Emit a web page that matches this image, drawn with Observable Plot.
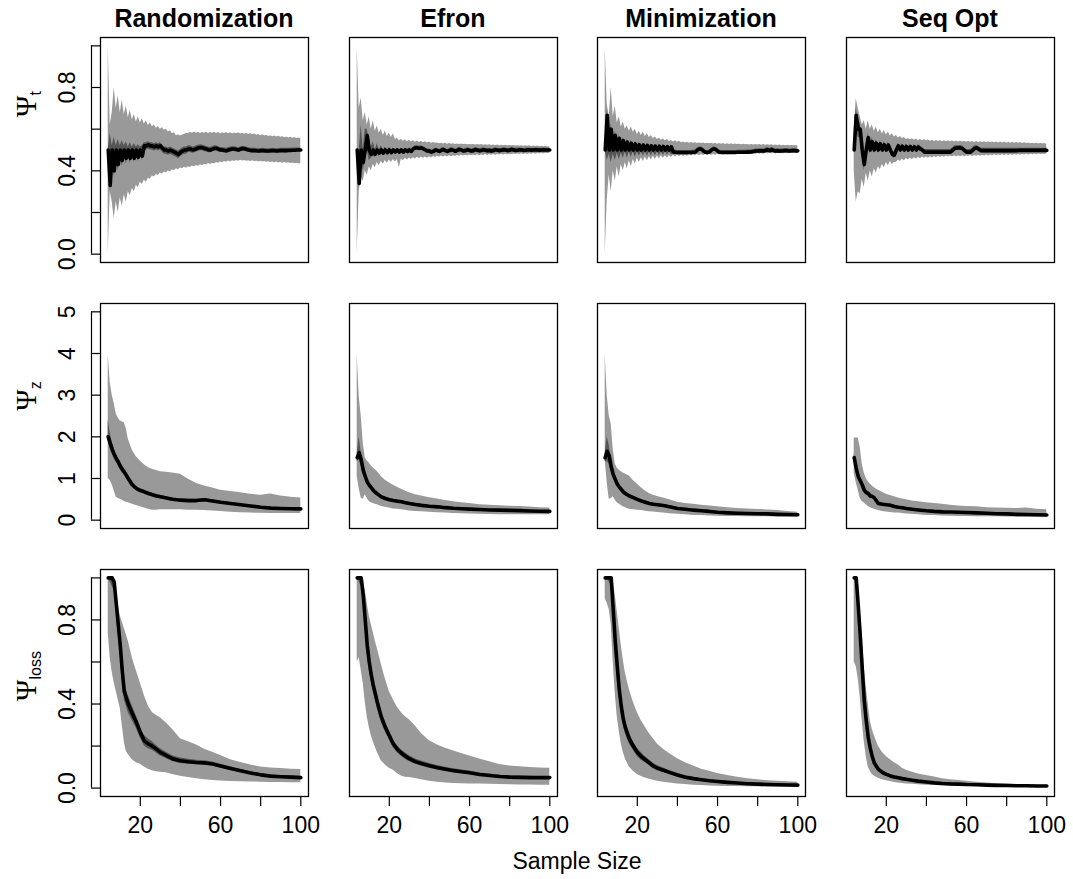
<!DOCTYPE html>
<html><head><meta charset="utf-8">
<script src="https://cdn.jsdelivr.net/npm/d3@7"></script>
<script src="https://cdn.jsdelivr.net/npm/@observablehq/plot@0.6"></script>
<style>
body{margin:0;background:#fff;}
#root{position:relative;width:1073px;height:879px;overflow:hidden;background:#fff;font-family:"Liberation Sans",Arial,sans-serif;}
#root svg{position:absolute;}
</style></head><body><div id="root"></div>
<script>
const methods = ["Randomization","Efron","Minimization","Seq Opt"];
const rowSubs = ["t","z","loss"];
const xTicks = [20,40,60,80,100];
const xLabels = [20,60,100];
const yTicksP = [0,0.2,0.4,0.6,0.8,1.0];
const yLabelsP = [0,0.4,0.8];
const yTicksZ = [0,1,2,3,4,5];

// sample sizes, row 1 (every n)
const nT = [4,5,6,7,8,9,10,11,12,13,
 14,15,16,17,18,19,20,21,22,23,
 24,25,26,27,28,29,30,31,32,33,
 34,35,36,37,38,39,40,41,42,43,
 44,45,46,47,48,49,50,51,52,53,
 54,55,56,57,58,59,60,61,62,63,
 64,65,66,67,68,69,70,71,72,73,
 74,75,76,77,78,79,80,81,82,83,
 84,85,86,87,88,89,90,91,92,93,
 94,95,96,97,98,99,100];
// sample sizes, rows 2-3
const nS = [4,5,6,7,8,9,10,11,12,13,14, 16,18,20,22,24,26,28,30, 33,36,40,44,48,52,56,60, 65,70,75,80,85,90,95,100];

// ---------- Psi_t ----------
const rand_t_hi = [1.00,0.62,0.68,0.80,0.70,0.76,0.68,0.74,0.67,0.71,
 0.655,0.69,0.645,0.67,0.635,0.66,0.63,0.65,0.625,0.64,
 0.618,0.63,0.612,0.62,0.605,0.613,0.6,0.607,0.595,0.6,
 0.587,0.592,0.578,0.583,0.568,0.573,0.567,0.572,0.574,0.58,
 0.579,0.585,0.581,0.586,0.58,0.585,0.579,0.584,0.58,0.585,
 0.579,0.584,0.58,0.585,0.579,0.584,0.578,0.583,0.579,0.584,
 0.578,0.583,0.577,0.582,0.578,0.583,0.577,0.581,0.576,0.58,
 0.575,0.579,0.573,0.577,0.571,0.575,0.569,0.573,0.567,0.571,
 0.565,0.569,0.564,0.567,0.562,0.566,0.561,0.564,0.559,0.563,
 0.558,0.561,0.557,0.56,0.555,0.558,0.554];
const rand_t_lo = [0.00,0.30,0.25,0.17,0.25,0.20,0.27,0.23,0.285,0.25,
 0.30,0.28,0.315,0.30,0.33,0.32,0.345,0.335,0.355,0.345,
 0.365,0.36,0.375,0.37,0.383,0.378,0.39,0.385,0.395,0.39,
 0.40,0.395,0.405,0.40,0.41,0.405,0.414,0.41,0.417,0.413,
 0.42,0.416,0.423,0.419,0.426,0.422,0.429,0.425,0.432,0.428,
 0.435,0.431,0.437,0.433,0.44,0.436,0.443,0.439,0.445,0.441,
 0.447,0.443,0.449,0.445,0.45,0.446,0.451,0.447,0.45,0.446,
 0.449,0.445,0.448,0.444,0.447,0.443,0.446,0.442,0.445,0.441,
 0.444,0.44,0.443,0.439,0.442,0.438,0.441,0.437,0.44,0.436,
 0.439,0.435,0.438,0.434,0.437,0.433,0.435];
const rand_t_med = [0.50,0.33,0.50,0.40,0.50,0.43,0.50,0.45,0.50,0.46,
 0.50,0.46,0.50,0.46,0.50,0.465,0.50,0.47,0.52,0.52,
 0.525,0.52,0.52,0.515,0.52,0.515,0.52,0.51,0.50,0.50,
 0.495,0.50,0.495,0.49,0.485,0.478,0.488,0.495,0.50,0.50,
 0.505,0.505,0.50,0.502,0.506,0.51,0.512,0.511,0.507,0.505,
 0.50,0.50,0.504,0.508,0.508,0.504,0.50,0.50,0.498,0.496,
 0.50,0.503,0.505,0.505,0.502,0.50,0.504,0.507,0.506,0.503,
 0.50,0.498,0.497,0.498,0.496,0.495,0.496,0.497,0.496,0.495,
 0.495,0.496,0.497,0.496,0.495,0.496,0.497,0.498,0.497,0.497,
 0.498,0.498,0.499,0.499,0.50,0.50,0.50];
const rand_t_ihi = [0.50,0.58,0.52,0.56,0.52,0.55,0.52,0.545,0.52,0.54,
 0.515,0.535,0.515,0.53,0.515,0.525,0.515,0.52,0.535,0.535,
 0.54,0.535,0.535,0.53,0.535,0.53,0.535,0.525,0.515,0.515,
 0.51,0.515,0.51,0.505,0.50,0.495,0.503,0.51,0.515,0.515,
 0.52,0.52,0.515,0.516,0.52,0.523,0.525,0.524,0.52,0.518,
 0.513,0.513,0.516,0.52,0.52,0.516,0.512,0.512,0.51,0.508,
 0.512,0.514,0.516,0.516,0.513,0.511,0.515,0.518,0.517,0.514,
 0.511,0.509,0.508,0.509,0.507,0.506,0.507,0.508,0.507,0.506,
 0.506,0.507,0.508,0.507,0.506,0.507,0.508,0.509,0.508,0.508,
 0.509,0.509,0.51,0.51,0.51,0.51,0.51];
const rand_t_ilo = [0.50,0.30,0.48,0.37,0.48,0.40,0.48,0.42,0.485,0.43,
 0.485,0.435,0.485,0.44,0.485,0.445,0.485,0.45,0.495,0.50,
 0.505,0.50,0.50,0.495,0.50,0.495,0.50,0.49,0.48,0.48,
 0.475,0.48,0.475,0.47,0.465,0.458,0.468,0.475,0.48,0.48,
 0.488,0.488,0.484,0.486,0.49,0.494,0.497,0.497,0.493,0.491,
 0.487,0.487,0.491,0.495,0.495,0.491,0.488,0.488,0.486,0.484,
 0.488,0.491,0.493,0.493,0.49,0.488,0.492,0.495,0.494,0.491,
 0.489,0.487,0.486,0.487,0.485,0.484,0.485,0.486,0.485,0.484,
 0.484,0.485,0.486,0.486,0.485,0.486,0.487,0.488,0.487,0.487,
 0.488,0.488,0.489,0.489,0.49,0.49,0.49];

const efron_t_hi = [0.99,0.70,0.75,0.64,0.68,0.62,0.66,0.60,0.64,0.59,
 0.615,0.58,0.60,0.57,0.59,0.565,0.58,0.56,0.578,0.55,
 0.556,0.545,0.552,0.542,0.549,0.54,0.547,0.538,0.545,0.537,
 0.543,0.536,0.542,0.535,0.54,0.534,0.538,0.533,0.536,0.532,
 0.534,0.53,0.533,0.529,0.532,0.528,0.531,0.528,0.53,0.527,
 0.529,0.526,0.529,0.526,0.528,0.525,0.527,0.525,0.527,0.524,
 0.526,0.524,0.526,0.523,0.525,0.523,0.525,0.522,0.524,0.522,
 0.524,0.521,0.523,0.521,0.523,0.52,0.522,0.52,0.522,0.519,
 0.521,0.519,0.521,0.518,0.52,0.518,0.52,0.517,0.519,0.517,
 0.519,0.516,0.518,0.516,0.518,0.515,0.516];
const efron_t_lo = [0.00,0.30,0.37,0.35,0.40,0.38,0.42,0.40,0.43,0.415,
 0.44,0.425,0.445,0.432,0.45,0.437,0.452,0.44,0.455,0.443,
 0.455,0.415,0.457,0.448,0.46,0.452,0.462,0.455,0.463,0.457,
 0.465,0.458,0.466,0.46,0.467,0.461,0.468,0.462,0.469,0.464,
 0.47,0.465,0.471,0.466,0.472,0.467,0.473,0.468,0.473,0.469,
 0.474,0.47,0.475,0.471,0.475,0.471,0.476,0.472,0.476,0.473,
 0.477,0.473,0.477,0.474,0.478,0.474,0.478,0.475,0.479,0.475,
 0.479,0.476,0.48,0.476,0.48,0.477,0.48,0.477,0.481,0.478,
 0.481,0.478,0.482,0.479,0.482,0.479,0.482,0.48,0.483,0.48,
 0.483,0.481,0.484,0.481,0.484,0.482,0.484];
const efron_t_med = [0.50,0.34,0.50,0.44,0.50,0.57,0.50,0.48,0.50,0.48,
 0.50,0.485,0.50,0.485,0.50,0.487,0.50,0.488,0.50,0.49,
 0.50,0.49,0.50,0.49,0.50,0.492,0.50,0.493,0.505,0.51,
 0.51,0.508,0.51,0.505,0.50,0.495,0.495,0.49,0.493,0.50,
 0.497,0.493,0.498,0.502,0.497,0.493,0.497,0.502,0.498,0.494,
 0.498,0.503,0.499,0.495,0.497,0.501,0.498,0.495,0.497,0.502,
 0.499,0.496,0.498,0.501,0.499,0.496,0.498,0.495,0.498,0.501,
 0.499,0.497,0.499,0.501,0.5,0.497,0.499,0.502,0.5,0.498,
 0.499,0.501,0.5,0.498,0.499,0.501,0.5,0.499,0.5,0.501,
 0.5,0.499,0.5,0.501,0.5,0.5,0.5];
const efron_t_ihi = [0.50,0.50,0.62,0.50,0.60,0.60,0.55,0.51,0.54,0.50,
 0.53,0.50,0.52,0.50,0.515,0.50,0.512,0.50,0.51,0.50,
 0.51,0.50,0.51,0.50,0.51,0.502,0.51,0.503,0.515,0.52,
 0.52,0.518,0.52,0.515,0.51,0.505,0.505,0.50,0.503,0.51,
 0.507,0.503,0.508,0.512,0.507,0.503,0.507,0.512,0.508,0.504,
 0.508,0.513,0.509,0.505,0.507,0.511,0.508,0.505,0.507,0.512,
 0.509,0.506,0.508,0.511,0.509,0.506,0.508,0.505,0.508,0.511,
 0.509,0.507,0.509,0.511,0.51,0.507,0.509,0.512,0.51,0.508,
 0.508,0.51,0.509,0.507,0.508,0.51,0.509,0.508,0.509,0.51,
 0.509,0.508,0.509,0.51,0.509,0.509,0.509];
const efron_t_ilo = [0.50,0.32,0.45,0.40,0.45,0.50,0.45,0.46,0.47,0.465,
 0.48,0.47,0.482,0.472,0.485,0.475,0.488,0.477,0.49,0.48,
 0.49,0.48,0.49,0.48,0.49,0.482,0.49,0.483,0.495,0.50,
 0.50,0.498,0.50,0.495,0.49,0.485,0.485,0.48,0.483,0.49,
 0.487,0.483,0.488,0.492,0.487,0.483,0.487,0.492,0.488,0.484,
 0.488,0.493,0.489,0.485,0.487,0.491,0.488,0.485,0.487,0.492,
 0.489,0.486,0.488,0.491,0.489,0.486,0.488,0.485,0.488,0.491,
 0.489,0.487,0.489,0.491,0.49,0.487,0.489,0.492,0.49,0.488,
 0.49,0.492,0.491,0.489,0.49,0.492,0.491,0.49,0.491,0.492,
 0.491,0.49,0.491,0.492,0.491,0.491,0.491];

const min_t_hi = [0.99,0.72,0.66,0.80,0.66,0.71,0.63,0.66,0.61,0.635,
 0.60,0.615,0.59,0.61,0.585,0.60,0.575,0.59,0.57,0.585,
 0.565,0.578,0.56,0.57,0.555,0.562,0.55,0.556,0.547,0.553,
 0.544,0.55,0.541,0.546,0.539,0.544,0.537,0.542,0.535,0.538,
 0.534,0.537,0.533,0.536,0.532,0.535,0.531,0.534,0.531,0.534,
 0.53,0.533,0.53,0.533,0.529,0.532,0.528,0.531,0.528,0.531,
 0.527,0.53,0.527,0.53,0.526,0.529,0.526,0.528,0.525,0.528,
 0.525,0.527,0.524,0.527,0.524,0.527,0.524,0.526,0.523,0.526,
 0.523,0.525,0.523,0.525,0.522,0.524,0.522,0.524,0.521,0.523,
 0.521,0.523,0.52,0.522,0.52,0.522,0.52];
const min_t_lo = [0.00,0.26,0.38,0.30,0.40,0.35,0.42,0.37,0.43,0.40,
 0.44,0.41,0.448,0.42,0.455,0.433,0.46,0.44,0.463,0.445,
 0.466,0.448,0.468,0.452,0.47,0.455,0.471,0.458,0.472,0.46,
 0.473,0.462,0.474,0.464,0.475,0.466,0.476,0.468,0.476,0.469,
 0.476,0.47,0.477,0.471,0.477,0.472,0.478,0.473,0.478,0.474,
 0.479,0.474,0.479,0.475,0.479,0.475,0.48,0.476,0.48,0.476,
 0.481,0.477,0.481,0.477,0.481,0.478,0.481,0.478,0.482,0.479,
 0.482,0.479,0.482,0.479,0.483,0.48,0.483,0.48,0.483,0.48,
 0.484,0.481,0.484,0.481,0.484,0.481,0.484,0.482,0.485,0.482,
 0.485,0.482,0.485,0.483,0.485,0.483,0.485];
const min_t_med = [0.50,0.667,0.50,0.60,0.50,0.571,0.50,0.556,0.50,0.545,
 0.50,0.538,0.50,0.533,0.50,0.529,0.50,0.526,0.50,0.524,
 0.50,0.522,0.50,0.52,0.50,0.519,0.50,0.518,0.50,0.517,
 0.50,0.516,0.50,0.515,0.49,0.489,0.488,0.488,0.488,0.488,
 0.488,0.488,0.488,0.488,0.489,0.49,0.50,0.505,0.505,0.495,
 0.489,0.488,0.49,0.50,0.505,0.504,0.495,0.489,0.488,0.488,
 0.488,0.488,0.488,0.488,0.488,0.488,0.489,0.489,0.489,0.489,
 0.489,0.49,0.49,0.491,0.493,0.495,0.495,0.496,0.496,0.495,
 0.498,0.502,0.497,0.502,0.498,0.495,0.496,0.495,0.495,0.496,
 0.497,0.496,0.495,0.496,0.497,0.496,0.496];
const min_t_ihi = [0.50,0.70,0.52,0.63,0.52,0.59,0.515,0.57,0.515,0.56,
 0.51,0.55,0.51,0.545,0.51,0.54,0.51,0.535,0.51,0.532,
 0.51,0.53,0.51,0.528,0.51,0.527,0.51,0.525,0.51,0.524,
 0.51,0.523,0.51,0.522,0.50,0.499,0.498,0.498,0.498,0.498,
 0.498,0.498,0.498,0.498,0.499,0.50,0.51,0.515,0.515,0.505,
 0.499,0.498,0.50,0.51,0.515,0.514,0.505,0.499,0.498,0.498,
 0.498,0.498,0.498,0.498,0.498,0.498,0.499,0.499,0.499,0.499,
 0.499,0.50,0.50,0.501,0.503,0.505,0.505,0.506,0.506,0.505,
 0.508,0.512,0.507,0.512,0.508,0.505,0.506,0.505,0.505,0.506,
 0.507,0.506,0.505,0.506,0.507,0.506,0.506];
const min_t_ilo = [0.50,0.45,0.48,0.44,0.48,0.45,0.485,0.455,0.485,0.46,
 0.49,0.46,0.49,0.465,0.49,0.465,0.49,0.47,0.49,0.47,
 0.49,0.47,0.49,0.472,0.49,0.472,0.49,0.474,0.49,0.475,
 0.49,0.476,0.49,0.477,0.48,0.479,0.478,0.478,0.478,0.478,
 0.478,0.478,0.478,0.478,0.479,0.48,0.49,0.495,0.495,0.485,
 0.479,0.478,0.48,0.49,0.495,0.494,0.485,0.479,0.478,0.478,
 0.478,0.478,0.478,0.478,0.478,0.478,0.479,0.479,0.479,0.479,
 0.479,0.48,0.48,0.481,0.483,0.485,0.485,0.486,0.486,0.485,
 0.488,0.492,0.487,0.492,0.488,0.485,0.486,0.485,0.485,0.486,
 0.487,0.486,0.485,0.486,0.487,0.486,0.486];

const seq_t_hi = [0.60,0.746,0.70,0.66,0.62,0.64,0.60,0.64,0.60,0.62,
 0.59,0.61,0.583,0.60,0.577,0.594,0.572,0.586,0.567,0.578,
 0.562,0.57,0.558,0.565,0.555,0.56,0.551,0.555,0.549,0.554,
 0.547,0.553,0.545,0.552,0.544,0.55,0.543,0.548,0.542,0.547,
 0.541,0.546,0.541,0.546,0.54,0.545,0.54,0.545,0.539,0.544,
 0.539,0.543,0.538,0.543,0.538,0.542,0.537,0.542,0.537,0.541,
 0.536,0.541,0.536,0.54,0.536,0.54,0.535,0.54,0.535,0.539,
 0.535,0.539,0.534,0.538,0.534,0.538,0.533,0.537,0.533,0.537,
 0.532,0.536,0.532,0.536,0.531,0.535,0.531,0.534,0.53,0.533,
 0.53,0.533,0.529,0.532,0.529,0.531,0.528];
const seq_t_lo = [0.40,0.25,0.30,0.29,0.36,0.32,0.39,0.35,0.40,0.37,
 0.41,0.39,0.42,0.405,0.43,0.415,0.44,0.425,0.445,0.43,
 0.44,0.44,0.452,0.445,0.456,0.448,0.459,0.452,0.461,0.454,
 0.463,0.456,0.465,0.458,0.466,0.46,0.467,0.461,0.468,0.462,
 0.469,0.463,0.47,0.464,0.47,0.465,0.471,0.466,0.471,0.466,
 0.472,0.467,0.472,0.468,0.473,0.468,0.473,0.469,0.474,0.469,
 0.474,0.47,0.475,0.47,0.475,0.471,0.476,0.471,0.476,0.472,
 0.477,0.472,0.477,0.473,0.478,0.473,0.478,0.474,0.478,0.474,
 0.479,0.475,0.479,0.475,0.48,0.476,0.48,0.476,0.48,0.477,
 0.481,0.477,0.481,0.478,0.481,0.478,0.481];
const seq_t_med = [0.50,0.667,0.60,0.60,0.50,0.43,0.50,0.56,0.50,0.54,
 0.50,0.533,0.50,0.53,0.50,0.526,0.50,0.524,0.50,0.48,
 0.475,0.50,0.52,0.50,0.518,0.50,0.517,0.50,0.516,0.50,
 0.515,0.50,0.514,0.505,0.50,0.49,0.49,0.49,0.49,0.49,
 0.49,0.49,0.49,0.49,0.49,0.49,0.49,0.49,0.49,0.498,
 0.507,0.51,0.51,0.51,0.507,0.498,0.49,0.49,0.49,0.498,
 0.507,0.51,0.505,0.498,0.497,0.497,0.497,0.497,0.497,0.497,
 0.497,0.497,0.497,0.497,0.497,0.497,0.497,0.497,0.497,0.497,
 0.497,0.497,0.498,0.498,0.498,0.498,0.498,0.498,0.498,0.498,
 0.498,0.498,0.498,0.498,0.498,0.498,0.498];
const seq_t_ihi = [0.52,0.70,0.64,0.63,0.53,0.47,0.52,0.58,0.52,0.56,
 0.515,0.55,0.515,0.545,0.512,0.54,0.512,0.537,0.51,0.495,
 0.49,0.512,0.532,0.512,0.53,0.512,0.529,0.512,0.528,0.512,
 0.527,0.512,0.526,0.517,0.512,0.502,0.502,0.502,0.502,0.502,
 0.502,0.502,0.502,0.502,0.502,0.502,0.502,0.502,0.502,0.51,
 0.519,0.522,0.522,0.522,0.519,0.51,0.502,0.502,0.502,0.51,
 0.519,0.522,0.517,0.51,0.508,0.508,0.508,0.508,0.508,0.508,
 0.508,0.508,0.508,0.508,0.508,0.508,0.508,0.508,0.508,0.508,
 0.508,0.508,0.508,0.508,0.508,0.508,0.508,0.508,0.508,0.508,
 0.508,0.508,0.508,0.508,0.508,0.508,0.508];
const seq_t_ilo = [0.48,0.62,0.56,0.56,0.47,0.40,0.48,0.54,0.48,0.52,
 0.485,0.515,0.485,0.515,0.488,0.51,0.488,0.51,0.49,0.465,
 0.46,0.488,0.508,0.488,0.506,0.488,0.505,0.488,0.504,0.488,
 0.503,0.488,0.502,0.493,0.488,0.478,0.478,0.478,0.478,0.478,
 0.478,0.478,0.478,0.478,0.478,0.478,0.478,0.478,0.478,0.486,
 0.495,0.498,0.498,0.498,0.495,0.486,0.478,0.478,0.478,0.486,
 0.495,0.498,0.493,0.486,0.486,0.486,0.486,0.486,0.486,0.486,
 0.486,0.486,0.486,0.486,0.486,0.486,0.486,0.486,0.486,0.486,
 0.487,0.487,0.488,0.488,0.488,0.488,0.488,0.488,0.488,0.488,
 0.488,0.488,0.488,0.488,0.488,0.488,0.488];

// ---------- Psi_z ----------
const rand_z_med = [2.00,1.85,1.70,1.58,1.48,1.40,1.30,1.22,1.16,1.08,1.00, 0.85,0.76,0.71,0.68,0.64,0.61,0.58,0.56, 0.53,0.50,0.48,0.47,0.47,0.49,0.46,0.43, 0.40,0.37,0.34,0.31,0.29,0.28,0.275,0.27];
const rand_z_hi = [3.97,3.3,3.0,2.8,2.55,2.45,2.38,2.36,2.34,2.2,1.95, 1.68,1.52,1.42,1.33,1.26,1.22,1.19,1.16, 1.15,1.13,1.10,0.98,0.88,0.82,0.77,0.72, 0.69,0.66,0.62,0.60,0.63,0.58,0.55,0.53];
const rand_z_lo = [1.00,0.95,0.85,0.70,0.55,0.52,0.50,0.48,0.45,0.43,0.42, 0.38,0.35,0.32,0.29,0.26,0.24,0.24,0.25, 0.25,0.25,0.25,0.24,0.24,0.235,0.22,0.21, 0.19,0.18,0.17,0.165,0.16,0.16,0.16,0.16];
const rand_z_ihi = [2.4,2.1,1.85,1.7,1.58,1.5,1.4,1.31,1.24,1.16,1.08, 0.92,0.82,0.76,0.72,0.68,0.65,0.62,0.60, 0.565,0.535,0.51,0.50,0.50,0.52,0.49,0.455, 0.425,0.39,0.36,0.33,0.31,0.30,0.29,0.285];
const rand_z_ilo = [1.9,1.7,1.58,1.48,1.39,1.31,1.21,1.14,1.08,1.0,0.93, 0.79,0.71,0.67,0.64,0.60,0.575,0.545,0.525, 0.495,0.47,0.45,0.44,0.44,0.46,0.43,0.405, 0.375,0.35,0.32,0.29,0.27,0.26,0.26,0.255];

const efron_z_med = [1.50,1.62,1.45,1.20,1.05,0.92,0.84,0.78,0.72,0.67,0.63, 0.56,0.52,0.49,0.47,0.455,0.44,0.42,0.40, 0.375,0.355,0.335,0.32,0.30,0.285,0.275,0.265, 0.255,0.245,0.24,0.235,0.23,0.22,0.215,0.21];
const efron_z_hi = [3.97,2.97,2.5,1.85,1.5,1.42,1.37,1.30,1.25,1.21,1.17, 1.05,0.96,0.90,0.84,0.79,0.74,0.70,0.66, 0.61,0.58,0.54,0.51,0.47,0.44,0.42,0.40, 0.37,0.36,0.345,0.335,0.33,0.315,0.30,0.29];
const efron_z_lo = [1.05,0.75,0.53,0.50,0.61,0.52,0.45,0.42,0.40,0.38,0.37, 0.33,0.31,0.29,0.27,0.26,0.25,0.24,0.22, 0.21,0.20,0.19,0.18,0.17,0.16,0.155,0.15, 0.14,0.135,0.13,0.13,0.13,0.13,0.13,0.13];
const efron_z_ihi = [1.6,2.0,1.6,1.3,1.13,0.99,0.9,0.84,0.77,0.72,0.68, 0.60,0.56,0.525,0.50,0.485,0.47,0.45,0.43, 0.40,0.38,0.355,0.34,0.32,0.30,0.29,0.28, 0.27,0.26,0.255,0.25,0.245,0.235,0.23,0.225];
const efron_z_ilo = [1.4,1.45,1.3,1.1,0.97,0.85,0.78,0.72,0.67,0.62,0.585, 0.52,0.48,0.455,0.44,0.425,0.41,0.39,0.37, 0.35,0.33,0.315,0.30,0.28,0.27,0.26,0.25, 0.24,0.23,0.225,0.22,0.215,0.205,0.20,0.195];

const min_z_med = [1.50,1.65,1.55,1.28,1.10,0.98,0.87,0.80,0.74,0.68,0.64, 0.58,0.54,0.50,0.46,0.43,0.40,0.38,0.37, 0.35,0.32,0.28,0.26,0.24,0.225,0.21,0.19, 0.175,0.165,0.16,0.155,0.15,0.14,0.135,0.13];
const min_z_hi = [3.97,3.0,2.5,2.3,1.7,1.35,1.25,1.20,1.16,1.13,1.11, 1.06,0.95,0.86,0.78,0.70,0.64,0.60,0.57, 0.53,0.49,0.43,0.40,0.38,0.36,0.34,0.32, 0.30,0.28,0.27,0.255,0.245,0.23,0.21,0.19];
const min_z_lo = [1.45,0.90,0.50,0.52,0.56,0.48,0.42,0.38,0.35,0.32,0.30, 0.26,0.25,0.24,0.23,0.215,0.205,0.195,0.185, 0.17,0.155,0.14,0.13,0.115,0.11,0.10,0.095, 0.09,0.088,0.085,0.082,0.08,0.075,0.072,0.07];
const min_z_ihi = [1.6,2.0,1.8,1.4,1.2,1.06,0.94,0.86,0.80,0.73,0.69, 0.62,0.58,0.535,0.49,0.46,0.43,0.41,0.395, 0.375,0.345,0.30,0.28,0.26,0.24,0.225,0.205, 0.19,0.18,0.17,0.165,0.16,0.15,0.145,0.14];
const min_z_ilo = [1.4,1.4,1.35,1.15,1.0,0.9,0.80,0.74,0.68,0.63,0.59, 0.54,0.50,0.465,0.43,0.40,0.37,0.35,0.345, 0.325,0.295,0.26,0.24,0.22,0.21,0.195,0.175, 0.16,0.15,0.15,0.145,0.14,0.13,0.125,0.12];

const seq_z_med = [1.50,1.25,1.05,0.95,0.85,0.72,0.66,0.64,0.58,0.57,0.54, 0.40,0.38,0.37,0.36,0.33,0.31,0.30,0.28, 0.26,0.245,0.225,0.21,0.20,0.195,0.19,0.185, 0.175,0.165,0.155,0.15,0.14,0.135,0.13,0.125];
const seq_z_hi = [1.97,1.97,1.97,1.75,1.35,1.13,1.0,0.92,0.87,0.82,0.78, 0.72,0.67,0.62,0.59,0.56,0.53,0.51,0.49, 0.46,0.44,0.42,0.40,0.38,0.36,0.34,0.33, 0.32,0.30,0.29,0.285,0.28,0.29,0.26,0.25];
const seq_z_lo = [1.13,0.90,0.72,0.52,0.45,0.41,0.37,0.33,0.30,0.28,0.26, 0.23,0.21,0.195,0.185,0.175,0.17,0.16,0.15, 0.14,0.13,0.115,0.11,0.10,0.095,0.09,0.088, 0.085,0.082,0.08,0.078,0.075,0.073,0.072,0.07];
const seq_z_ihi = [1.6,1.35,1.13,1.02,0.92,0.78,0.71,0.69,0.63,0.61,0.58, 0.44,0.415,0.40,0.39,0.36,0.335,0.325,0.305, 0.28,0.265,0.245,0.23,0.22,0.21,0.205,0.20, 0.19,0.18,0.17,0.165,0.155,0.15,0.145,0.14];
const seq_z_ilo = [1.4,1.15,0.97,0.88,0.78,0.66,0.61,0.59,0.53,0.53,0.50, 0.36,0.345,0.34,0.33,0.30,0.285,0.275,0.255, 0.24,0.225,0.205,0.19,0.18,0.18,0.175,0.17, 0.16,0.15,0.14,0.135,0.125,0.12,0.115,0.11];

// ---------- Psi_loss ----------
const rand_l_med = [1.0,1.0,1.0,0.98,0.88,0.78,0.68,0.56,0.46,0.43,0.40, 0.355,0.315,0.265,0.225,0.21,0.20,0.185,0.17, 0.155,0.14,0.13,0.125,0.122,0.12,0.115,0.105, 0.093,0.082,0.072,0.063,0.057,0.054,0.052,0.05];
const rand_l_hi = [1.0,1.0,1.0,1.0,0.92,0.87,0.82,0.79,0.76,0.73,0.70, 0.62,0.56,0.50,0.44,0.39,0.36,0.345,0.335, 0.31,0.28,0.235,0.22,0.205,0.185,0.17,0.155, 0.135,0.122,0.11,0.10,0.096,0.093,0.09,0.088];
const rand_l_lo = [0.74,0.62,0.55,0.50,0.46,0.42,0.38,0.30,0.22,0.175,0.16, 0.135,0.12,0.113,0.10,0.09,0.082,0.078,0.075, 0.073,0.065,0.056,0.05,0.045,0.04,0.036,0.034, 0.031,0.03,0.029,0.028,0.027,0.027,0.026,0.026];
const rand_l_ihi = [1.0,1.0,1.0,1.0,0.92,0.83,0.73,0.61,0.51,0.47,0.44, 0.39,0.345,0.29,0.25,0.233,0.22,0.203,0.187, 0.17,0.154,0.143,0.137,0.133,0.13,0.124,0.114, 0.101,0.089,0.078,0.069,0.062,0.059,0.057,0.055];
const rand_l_ilo = [1.0,0.98,0.96,0.94,0.83,0.73,0.63,0.51,0.42,0.39,0.36, 0.32,0.285,0.24,0.20,0.187,0.18,0.167,0.153, 0.14,0.126,0.117,0.113,0.111,0.11,0.106,0.096, 0.085,0.075,0.066,0.057,0.052,0.049,0.047,0.045];

const efron_l_med = [1.0,1.0,1.0,0.92,0.80,0.68,0.60,0.54,0.49,0.45,0.41, 0.34,0.29,0.25,0.21,0.185,0.167,0.152,0.14, 0.126,0.117,0.106,0.097,0.09,0.083,0.078,0.073, 0.065,0.06,0.055,0.052,0.051,0.05,0.05,0.05];
const efron_l_hi = [1.0,1.0,1.0,0.98,0.94,0.88,0.82,0.78,0.74,0.70,0.665, 0.59,0.52,0.46,0.42,0.385,0.36,0.34,0.325, 0.295,0.26,0.225,0.205,0.19,0.177,0.165,0.153, 0.138,0.125,0.112,0.105,0.101,0.098,0.096,0.094];
const efron_l_lo = [0.60,0.62,0.56,0.50,0.41,0.34,0.29,0.25,0.22,0.195,0.17, 0.13,0.11,0.095,0.085,0.07,0.057,0.052,0.05, 0.046,0.04,0.033,0.028,0.024,0.022,0.021,0.02, 0.019,0.018,0.017,0.016,0.015,0.015,0.014,0.014];
const efron_l_ihi = [1.0,1.0,1.0,0.95,0.84,0.72,0.64,0.575,0.52,0.48,0.44, 0.365,0.312,0.27,0.228,0.202,0.183,0.167,0.154, 0.139,0.129,0.117,0.107,0.099,0.092,0.086,0.081, 0.072,0.067,0.061,0.058,0.057,0.056,0.055,0.055];
const efron_l_ilo = [1.0,0.98,0.96,0.88,0.76,0.64,0.56,0.505,0.46,0.42,0.38, 0.315,0.268,0.23,0.192,0.168,0.151,0.137,0.126, 0.113,0.105,0.095,0.087,0.081,0.074,0.07,0.065, 0.058,0.053,0.049,0.046,0.045,0.044,0.045,0.045];

const min_l_med = [1.0,1.0,1.0,1.0,0.85,0.70,0.58,0.47,0.39,0.33,0.29, 0.235,0.20,0.17,0.15,0.135,0.12,0.105,0.095, 0.085,0.075,0.062,0.052,0.045,0.04,0.035,0.031, 0.027,0.024,0.021,0.019,0.017,0.016,0.015,0.014];
const min_l_hi = [1.0,1.0,1.0,1.0,0.98,0.92,0.84,0.76,0.68,0.61,0.55, 0.47,0.41,0.36,0.32,0.29,0.26,0.235,0.21, 0.185,0.165,0.14,0.12,0.105,0.09,0.08,0.07, 0.06,0.052,0.045,0.04,0.035,0.032,0.03,0.028];
const min_l_lo = [0.90,0.88,0.85,0.78,0.60,0.45,0.34,0.27,0.21,0.17,0.14, 0.10,0.08,0.065,0.055,0.048,0.042,0.037,0.033, 0.028,0.024,0.02,0.017,0.014,0.012,0.01,0.009, 0.008,0.007,0.006,0.006,0.005,0.005,0.005,0.005];
const min_l_ihi = [1.0,1.0,1.0,1.0,0.89,0.75,0.63,0.51,0.43,0.36,0.32, 0.26,0.22,0.19,0.168,0.15,0.134,0.118,0.107, 0.096,0.084,0.07,0.059,0.051,0.045,0.04,0.035, 0.031,0.027,0.024,0.022,0.02,0.019,0.018,0.017];
const min_l_ilo = [1.0,1.0,0.98,0.96,0.81,0.65,0.53,0.43,0.35,0.30,0.26, 0.21,0.18,0.15,0.132,0.12,0.106,0.092,0.083, 0.074,0.066,0.054,0.045,0.039,0.035,0.03,0.027, 0.023,0.021,0.018,0.016,0.014,0.013,0.012,0.011];

const seq_l_med = [1.0,1.0,0.87,0.73,0.57,0.42,0.32,0.24,0.19,0.15,0.12, 0.09,0.075,0.065,0.058,0.053,0.049,0.045,0.042, 0.037,0.033,0.029,0.025,0.022,0.02,0.019,0.017, 0.016,0.014,0.013,0.012,0.011,0.011,0.01,0.01];
const seq_l_hi = [1.0,1.0,0.95,0.84,0.71,0.58,0.48,0.40,0.32,0.28,0.25, 0.20,0.17,0.15,0.135,0.12,0.11,0.095,0.085, 0.075,0.067,0.06,0.053,0.045,0.04,0.036,0.032, 0.028,0.024,0.021,0.019,0.017,0.015,0.014,0.013];
const seq_l_lo = [0.60,0.58,0.52,0.43,0.32,0.22,0.15,0.10,0.08,0.065,0.057, 0.047,0.04,0.035,0.031,0.027,0.024,0.022,0.02, 0.018,0.016,0.014,0.012,0.011,0.01,0.009,0.009, 0.008,0.008,0.007,0.007,0.006,0.006,0.006,0.006];
const seq_l_ihi = [1.0,1.0,0.9,0.77,0.61,0.46,0.35,0.265,0.21,0.167,0.135, 0.102,0.085,0.073,0.065,0.059,0.054,0.05,0.046, 0.041,0.036,0.032,0.028,0.024,0.022,0.021,0.019, 0.018,0.016,0.015,0.014,0.013,0.013,0.012,0.012];
const seq_l_ilo = [1.0,0.98,0.84,0.69,0.53,0.38,0.29,0.215,0.17,0.133,0.105, 0.078,0.065,0.057,0.051,0.047,0.044,0.04,0.038, 0.033,0.03,0.026,0.022,0.02,0.018,0.017,0.015, 0.014,0.012,0.011,0.01,0.009,0.009,0.008,0.008];

const grid = [
  [[nT,rand_t_lo,rand_t_hi,rand_t_ilo,rand_t_ihi,rand_t_med],[nT,efron_t_lo,efron_t_hi,efron_t_ilo,efron_t_ihi,efron_t_med],[nT,min_t_lo,min_t_hi,min_t_ilo,min_t_ihi,min_t_med],[nT,seq_t_lo,seq_t_hi,seq_t_ilo,seq_t_ihi,seq_t_med]],
  [[nS,rand_z_lo,rand_z_hi,rand_z_ilo,rand_z_ihi,rand_z_med],[nS,efron_z_lo,efron_z_hi,efron_z_ilo,efron_z_ihi,efron_z_med],[nS,min_z_lo,min_z_hi,min_z_ilo,min_z_ihi,min_z_med],[nS,seq_z_lo,seq_z_hi,seq_z_ilo,seq_z_ihi,seq_z_med]],
  [[nS,rand_l_lo,rand_l_hi,rand_l_ilo,rand_l_ihi,rand_l_med],[nS,efron_l_lo,efron_l_hi,efron_l_ilo,efron_l_ihi,efron_l_med],[nS,min_l_lo,min_l_hi,min_l_ilo,min_l_ihi,min_l_med],[nS,seq_l_lo,seq_l_hi,seq_l_ilo,seq_l_ihi,seq_l_med]]
];

const root = document.getElementById("root");
const lefts = [100,349,597,846], tops = [37,303,569], heights = [225,225,227], PW = 208;
const FONT = "Liberation Sans, Arial, Helvetica, sans-serif";
const xDom = [0.16,103.84];

grid.forEach((rowArr, r) => rowArr.forEach((s, c) => {
  const [n, lo, hi, ilo, ihi, med] = s;
  [lo,hi,ilo,ihi,med].forEach((a,k)=>{ if (a.length !== n.length) throw new Error(`row ${r} col ${c} series ${k}: ${a.length} vs ${n.length}`); });
  const data = n.map((x,i)=>({n:x, lo:lo[i], hi:hi[i], ilo:ilo[i], ihi:ihi[i], med:med[i]}));
  const yDom = r===1 ? [-0.2,5.2] : [-0.04,1.04];
  const mL = c===0 ? 100 : 3, mR = 3, mT = 3, mB = r===2 ? 60 : 3;
  const marks = [
    Plot.areaY(data, {x:"n", y1:"lo", y2:"hi", fill:"#999999"}),
    Plot.areaY(data, {x:"n", y1:"ilo", y2:"ihi", fill:"#555555"}),
    Plot.line(data, {x:"n", y:"med", stroke:"black", strokeWidth:3.6}),
    Plot.frame({stroke:"black", strokeWidth:1.3})
  ];
  if (c===0) {
    const yt = r===1 ? yTicksZ : yTicksP;
    const yl = r===1 ? yTicksZ : yLabelsP;
    const fmt = r===1 ? d3.format("d") : d3.format(".1f");
    marks.push(Plot.ruleX([xDom[0]], {y1: yt[0], y2: yt[yt.length-1], dx: -9, stroke:"black", strokeWidth:1.2}));
    marks.push(Plot.axisY(yt, {tickSize: 9, tickFormat: () => "", label: null, strokeWidth: 1.2}));
    marks.push(Plot.text(yl, {x: xDom[0], y: d=>d, text: d=>fmt(d), rotate: -90, dx: -32.5, fontSize: 23, fontFamily: FONT, textAnchor: "middle", lineAnchor: "middle", fill: "black"}));
  }
  if (r===2) {
    marks.push(Plot.axisX(xTicks, {tickSize: 10, tickFormat: () => "", label: null, strokeWidth: 1.2}));
    marks.push(Plot.text(xLabels, {x: d=>d, y: yDom[0], text: d=>String(d), dy: 29, fontSize: 23, fontFamily: FONT, textAnchor: "middle", lineAnchor: "middle", fill: "black"}));
  }
  const opts = {
    width: PW + mL + mR, height: heights[r] + mT + mB,
    marginLeft: mL, marginRight: mR, marginTop: mT, marginBottom: mB,
    x: {domain: xDom}, y: {domain: yDom},
    style: {fontFamily: FONT, background: "transparent", overflow: "visible"},
    marks
  };
  if (r!==2) opts.x.axis = null;
  if (c!==0) opts.y.axis = null;
  const svg = Plot.plot(opts);
  svg.style.position = "absolute";
  svg.style.left = (lefts[c]-mL) + "px";
  svg.style.top = (tops[r]-mT) + "px";
  root.appendChild(svg);
}));

// overlay texts
const ov = d3.select(root).append("svg").attr("width",1073).attr("height",879)
  .style("left","0px").style("top","0px").style("position","absolute");
methods.forEach((m,i) => {
  ov.append("text").attr("x", lefts[i]+PW/2).attr("y", 27).attr("text-anchor","middle")
    .attr("font-family", FONT).attr("font-weight","bold").attr("font-size", 25).text(m);
});
const labelCenters = [104, 396, 676];
rowSubs.forEach((sub, r) => {
  const t = ov.append("text").attr("transform", `translate(36,${labelCenters[r]}) rotate(-90)`).attr("text-anchor","middle");
  t.append("tspan").attr("font-family","Liberation Serif, Times New Roman, serif").attr("font-size", 29).text("Ψ");
  t.append("tspan").attr("font-family", FONT).attr("font-size", 16).attr("dy", 5).text(sub);
});
ov.append("text").attr("x", 577).attr("y", 869).attr("text-anchor","middle")
  .attr("font-family", FONT).attr("font-size", 23).text("Sample Size");
</script></body></html>
